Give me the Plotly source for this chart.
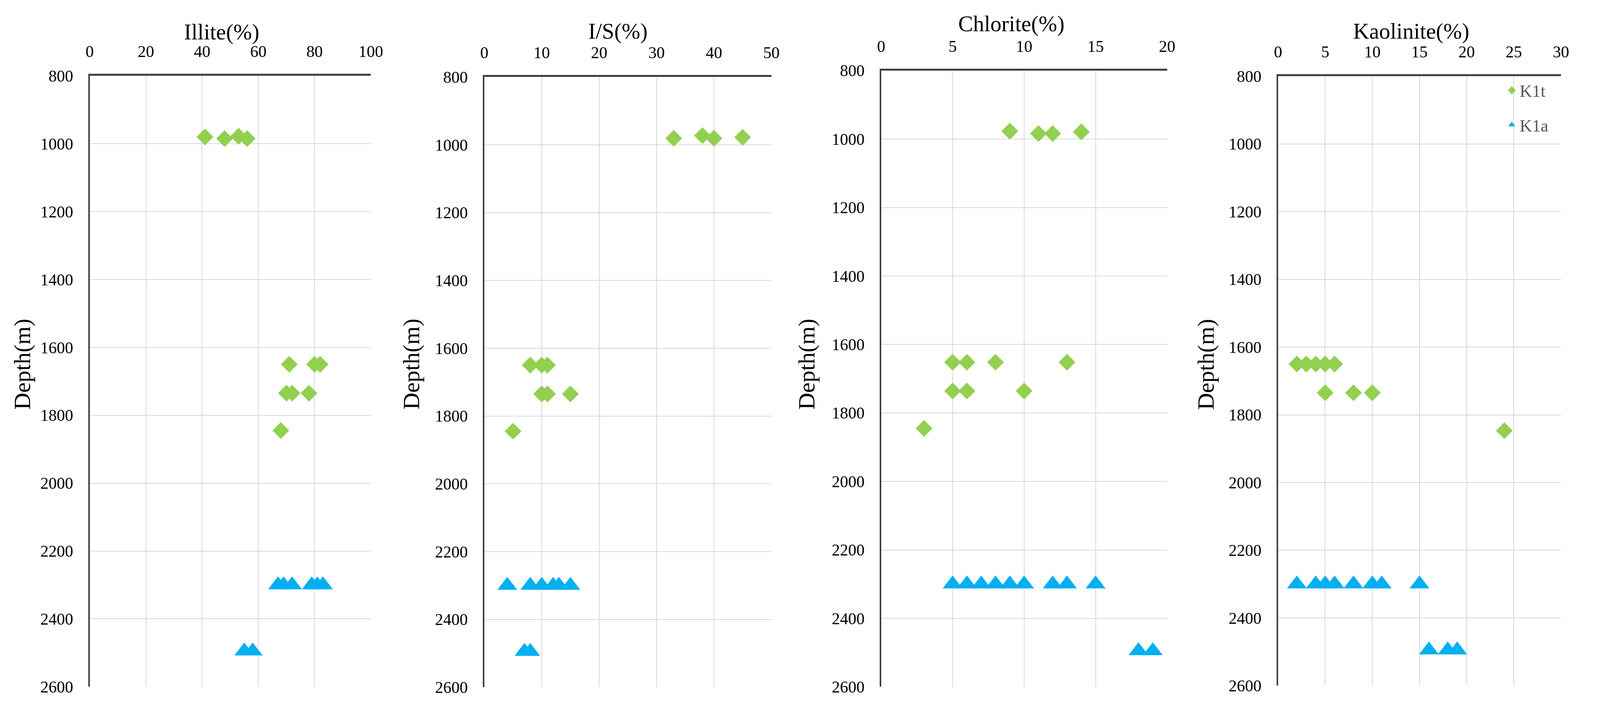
import plotly.graph_objects as go

W, H = 4237, 1829

# axis titles and ranges of the four panels
minerals = ["Illite(%)", "I/S(%)", "Chlorite(%)", "Kaolinite(%)"]
x_max = [100, 50, 20, 30]
x_step = [20, 10, 5, 5]

# K1t samples (green diamonds): depth (m) and content (%)
k1t_depth = [
    [980, 985, 978, 985, 1650, 1650, 1650, 1735, 1735, 1735, 1845],
    [981, 973, 981, 978, 1650, 1650, 1650, 1735, 1735, 1735, 1845],
    [977, 984, 984, 979, 1652, 1652, 1652, 1652, 1736, 1736, 1736, 1845],
    [1650, 1650, 1650, 1650, 1650, 1735, 1735, 1735, 1847],
]
k1t_value = [
    [41, 48, 53, 56, 71, 80, 82, 70, 72, 78, 68],
    [33, 38, 40, 45, 8, 10, 11, 10, 11, 15, 5],
    [9, 11, 12, 14, 5, 6, 8, 13, 5, 6, 10, 3],
    [2, 3, 4, 5, 6, 5, 8, 10, 24],
]

# K1a samples (blue triangles)
k1a_depth = [
    [2300, 2300, 2300, 2300, 2300, 2300, 2495, 2495],
    [2300, 2300, 2300, 2300, 2300, 2300, 2495, 2495],
    [2300, 2300, 2300, 2300, 2300, 2300, 2300, 2300, 2300, 2495, 2495],
    [2300, 2300, 2300, 2300, 2300, 2300, 2300, 2300, 2495, 2495, 2495],
]
k1a_value = [
    [67, 69, 72, 79, 81, 83, 55, 58],
    [4, 8, 10, 12, 13, 15, 7, 8],
    [5, 6, 7, 8, 9, 10, 12, 13, 15, 18, 19],
    [2, 4, 5, 6, 8, 10, 11, 15, 16, 18, 19],
]

depth_range = [800, 2600]

# panel boxes in pixels (left, right, top, bottom)
boxes = [(221, 976, 170, 1790), (1281, 2052, 173, 1791),
         (2347, 3115, 156, 1790), (3413, 4173, 171, 1787)]
title_pos = [(576, 54), (1640, 52), (2697, 32), (3771, 52)]
ylabel_x = [40, 1085, 2147, 3219]

GREEN = "#92D050"
BLUE = "#00B0F0"
FONT = "Liberation Serif"


def fx(px):
    return px / W


def fy(py):
    return 1 - py / H


fig = go.Figure()
annotations = []
for i in range(4):
    n = "" if i == 0 else str(i + 1)
    fig.add_trace(go.Scatter(
        x=k1t_value[i], y=k1t_depth[i], mode="markers", name="K1t",
        legendgroup="K1t", showlegend=(i == 3),
        marker=dict(symbol="diamond", size=33, color=GREEN),
        xaxis="x" + n, yaxis="y" + n))
    fig.add_trace(go.Scatter(
        x=k1a_value[i], y=k1a_depth[i], mode="markers", name="K1a",
        legendgroup="K1a", showlegend=(i == 3),
        marker=dict(symbol="triangle-up", size=44, color=BLUE),
        xaxis="x" + n, yaxis="y" + n))

    l, r, t, b = boxes[i]
    fig.update_layout({
        "xaxis" + n: dict(
            domain=[fx(l), fx(r)], range=[0, x_max[i]], dtick=x_step[i],
            side="top", anchor="y" + n, showgrid=True, gridcolor="#d9d9d9",
            gridwidth=2, showline=True, linecolor="#404040", linewidth=5,
            zeroline=False, ticks="", ticklabelstandoff=26,
            tickfont=dict(family=FONT, size=42, color="#000000")),
        "yaxis" + n: dict(
            domain=[fy(b), fy(t)], range=depth_range[::-1], dtick=200,
            anchor="x" + n, showgrid=True, gridcolor="#d9d9d9", gridwidth=2,
            showline=True, linecolor="#404040", linewidth=4, zeroline=False,
            ticks="", ticklabelstandoff=30,
            tickfont=dict(family=FONT, size=42, color="#000000")),
    })

    annotations.append(dict(
        text=minerals[i], x=fx(title_pos[i][0]), y=fy(title_pos[i][1]),
        xref="paper", yref="paper", showarrow=False,
        xanchor="center", yanchor="middle",
        font=dict(family=FONT, size=57, color="#000000")))
    annotations.append(dict(
        text="Depth(m)", x=fx(ylabel_x[i]), y=fy(935), textangle=-90,
        xref="paper", yref="paper", showarrow=False,
        xanchor="center", yanchor="middle",
        font=dict(family=FONT, size=60, color="#000000")))

# let the figure fill the browser window instead of a fixed pixel size
fig.update_layout(
    autosize=True,
    margin=dict(l=0, r=0, t=0, b=0),
    paper_bgcolor="white", plot_bgcolor="white",
    annotations=annotations,
    legend=dict(x=fx(4020), y=fy(172), xanchor="left", yanchor="top",
                bgcolor="rgba(0,0,0,0)", tracegroupgap=28,
                itemsizing="trace",
                font=dict(family=FONT, size=44, color="#595959")),
)

fig.write_html("out.html")
